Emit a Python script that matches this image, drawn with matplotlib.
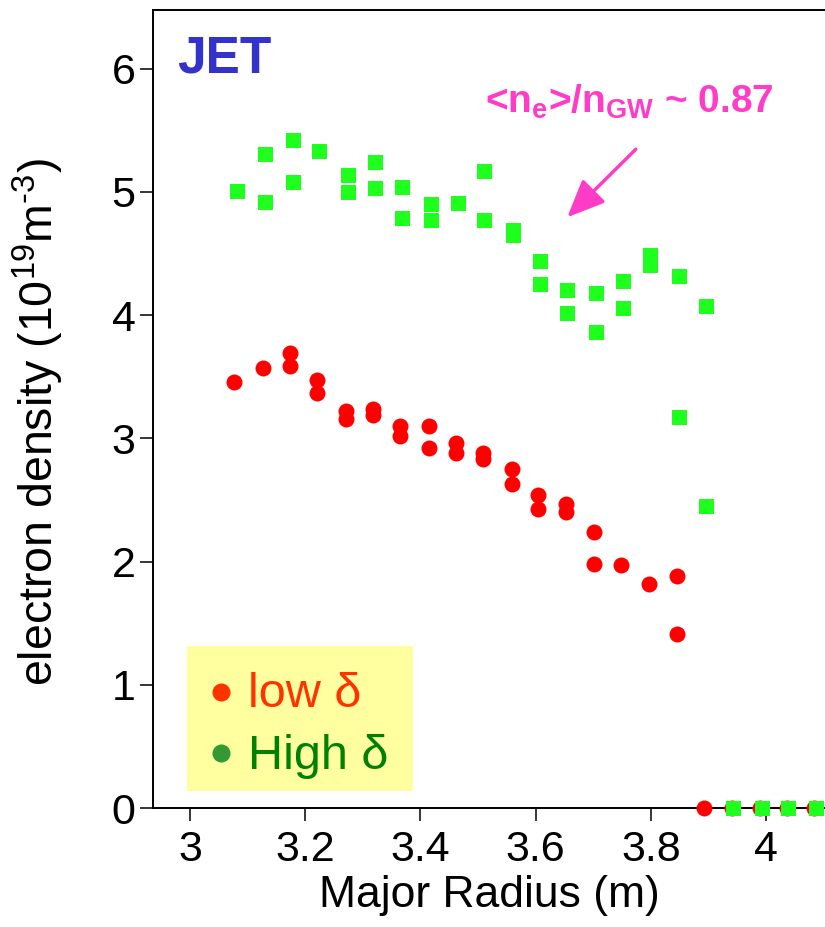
import matplotlib
matplotlib.use("Agg")
import matplotlib.pyplot as plt
from matplotlib.patches import Rectangle

plt.rcParams['font.family'] = ['Liberation Sans', 'DejaVu Sans']
plt.rcParams['mathtext.fontset'] = 'custom'
plt.rcParams['mathtext.rm'] = 'Liberation Sans'
plt.rcParams['mathtext.it'] = 'Liberation Sans:italic'
plt.rcParams['mathtext.bf'] = 'Liberation Sans:bold'

# low triangularity profile (major radius in m, density in 1e19 m^-3)
low_r = [3.077, 3.127, 3.174, 3.174, 3.221, 3.221, 3.271, 3.271, 3.318, 3.318,
         3.365, 3.365, 3.415, 3.415, 3.461, 3.461, 3.508, 3.508, 3.559, 3.559,
         3.605, 3.605, 3.652, 3.652, 3.702, 3.702, 3.749, 3.796, 3.846, 3.846,
         3.892, 3.941, 3.990, 4.036, 4.083]
low_ne = [3.46, 3.57, 3.69, 3.59, 3.47, 3.37, 3.22, 3.16, 3.24, 3.19,
          3.10, 3.02, 3.10, 2.92, 2.96, 2.88, 2.88, 2.83, 2.75, 2.63,
          2.54, 2.43, 2.47, 2.40, 2.24, 1.98, 1.97, 1.82, 1.88, 1.41,
          0, 0, 0, 0, 0]

# high triangularity profile
high_r = [3.081, 3.131, 3.131, 3.178, 3.178, 3.224, 3.274, 3.274, 3.321, 3.321,
          3.368, 3.368, 3.418, 3.418, 3.465, 3.511, 3.511, 3.561, 3.561, 3.608,
          3.608, 3.655, 3.655, 3.705, 3.705, 3.752, 3.752, 3.799, 3.799, 3.849,
          3.849, 3.896, 3.896, 3.943, 3.993, 4.038, 4.087]
high_ne = [5.01, 5.31, 4.92, 5.42, 5.08, 5.33, 5.14, 5.00, 5.24, 5.03,
           5.04, 4.79, 4.90, 4.77, 4.91, 5.17, 4.77, 4.69, 4.65, 4.44,
           4.25, 4.20, 4.02, 4.18, 3.86, 4.28, 4.06, 4.49, 4.41, 4.32,
           3.17, 4.07, 2.45, 0, 0, 0, 0]

x_ticks = [3.0, 3.2, 3.4, 3.6, 3.8, 4.0]
x_tick_labels = ['3', '3.2', '3.4', '3.6', '3.8', '4']
y_ticks = [0, 1, 2, 3, 4, 5, 6]

fig = plt.figure(figsize=(8.25, 9.27), dpi=100)
ax = fig.add_axes([153 / 825, 119 / 927, 672 / 825, 798.5 / 927])

ax.plot(low_r, low_ne, ls='none', marker='o', ms=11.5, mew=0,
        color='#ff0000', clip_on=False, zorder=3)
ax.plot(high_r, high_ne, ls='none', marker='s', ms=10.8, mew=0,
        color='#1eff1e', clip_on=False, zorder=4)

ax.set_xlim(2.9358, 4.1024)
ax.set_ylim(0, 6.48)
ax.set_xticks(x_ticks)
ax.set_xticklabels(x_tick_labels)
ax.set_yticks(y_ticks)

for side in ['left', 'bottom', 'top']:
    ax.spines[side].set_linewidth(1.4)
ax.spines['right'].set_visible(False)
ax.tick_params(axis='both', direction='out', length=9.5, width=1.1,
               labelsize=31)
ax.tick_params(axis='x', pad=6)
ax.tick_params(axis='y', pad=3)

ax.set_xlabel('Major Radius (m)', fontsize=32, labelpad=4)
ax.set_ylabel('electron density (10$^{19}$m$^{\u20103}$)', fontsize=33.5)
ax.yaxis.set_label_coords(-0.13, 0.483)

ax.text(2.977, 5.966, 'JET', fontsize=37, fontweight='bold',
        color='#3333cc', ha='left', va='baseline')

magenta = '#ff3cc8'
ax.text(3.512, 5.64, r'<n$_\mathbf{e}$>/n$_\mathbf{GW}$ ~ 0.87',
        fontsize=28, fontweight='bold', color=magenta,
        ha='left', va='baseline')
ax.annotate('', xy=(3.655, 4.794), xytext=(3.774, 5.346),
            arrowprops=dict(arrowstyle='-|>,head_length=1.15,head_width=0.5',
                            mutation_scale=20, lw=2.5, color=magenta,
                            shrinkA=0, shrinkB=0))

# legend box
ax.add_patch(Rectangle((2.995, 0.138), 0.392, 1.177, facecolor='#ffffa0',
                       edgecolor='none', zorder=2))
ax.plot([3.053], [0.944], marker='o', ms=13, mew=0, color='#ff3300',
        zorder=3)
ax.plot([3.053], [0.446], marker='o', ms=13, mew=0, color='#339933',
        zorder=3)
ax.text(3.1007, 0.822, 'low δ', fontsize=35, color='#ff3300',
        ha='left', va='baseline', zorder=3)
ax.text(3.1007, 0.317, 'High δ', fontsize=35, color='#008000',
        ha='left', va='baseline', zorder=3)

fig.savefig('out.png', dpi=100)
